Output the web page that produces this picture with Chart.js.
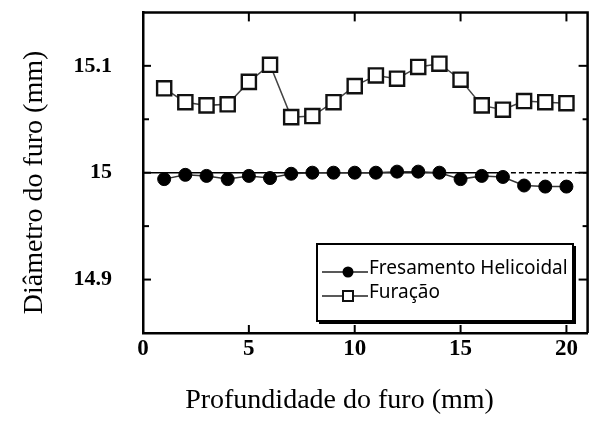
<!DOCTYPE html>
<html>
<head>
<meta charset="utf-8">
<script src="https://cdn.jsdelivr.net/npm/chart.js@4.4.0/dist/chart.umd.min.js"></script>
<style>
  html, body { margin: 0; padding: 0; background: #fff; overflow: hidden; width: 592px; height: 421px; }
  canvas { display: block; }
</style>
</head>
<body>
<canvas id="c" width="600" height="421"></canvas>
<script>
// Hole depth (mm) at which each diameter was measured
const depth = [1, 2, 3, 4, 5, 6, 7, 8, 9, 10, 11, 12, 13, 14, 15, 16, 17, 18, 19, 20];
// Hole diameter (mm), helical milling
const fresamento = [14.994, 14.998, 14.997, 14.994, 14.997, 14.995, 14.999, 15.000, 15.000, 15.000,
                    15.000, 15.001, 15.001, 15.000, 14.994, 14.997, 14.996, 14.988, 14.987, 14.987];
// Hole diameter (mm), conventional drilling
const furacao = [15.079, 15.066, 15.063, 15.064, 15.085, 15.101, 15.052, 15.053, 15.066, 15.081,
                 15.091, 15.088, 15.099, 15.102, 15.087, 15.063, 15.059, 15.067, 15.066, 15.065];
// Nominal diameter line: solid up to nominalSolidEnd, dashed after it
const nominal = 15.0;
const nominalSolidEnd = 17;

const seriesNames = ['Fresamento Helicoidal', 'Furação'];
const xTicks = [0, 5, 10, 15, 20];
const xTickLabels = ['0', '5', '10', '15', '20'];
const yTicks = [14.9, 15.0, 15.1];
const yTickLabels = ['14.9', '15', '15.1'];
const yMinorTicks = [14.95, 15.05];
const xTitle = 'Profundidade do furo (mm)';
const yTitle = 'Diâmetro do furo (mm)';

const X_MIN = 0, X_MAX = 21, Y_MIN = 14.85, Y_MAX = 15.15;
const SERIF = '"Liberation Serif", "Times New Roman", serif';
const SANS = '"Noto Sans", "Open Sans", sans-serif';

const toPoints = (xs, ys) => xs.map((x, i) => ({ x, y: ys[i] }));

// Boxed plot frame, inward tick marks, axis titles and the legend box
const framePlugin = {
  id: 'frame',
  afterDraw(chart) {
    const { ctx, chartArea: a, scales: { x, y } } = chart;
    const line = (x1, y1, x2, y2) => { ctx.beginPath(); ctx.moveTo(x1, y1); ctx.lineTo(x2, y2); ctx.stroke(); };
    ctx.save();
    ctx.strokeStyle = '#000';
    ctx.lineCap = 'butt';

    // top and right spines
    ctx.lineWidth = 2.5;
    ctx.beginPath();
    ctx.moveTo(a.left, a.top);
    ctx.lineTo(a.right, a.top);
    ctx.lineTo(a.right, a.bottom);
    ctx.stroke();

    // inward ticks
    ctx.lineWidth = 2;
    xTicks.forEach(v => {
      if (v === X_MIN) return;
      const px = x.getPixelForValue(v);
      line(px, a.bottom, px, a.bottom - 8);
      line(px, a.top, px, a.top + 9);
    });
    yTicks.forEach(v => {
      const py = y.getPixelForValue(v);
      line(a.left, py, a.left + 8, py);
      line(a.right, py, a.right - 9, py);
    });
    yMinorTicks.forEach(v => {
      const py = y.getPixelForValue(v);
      line(a.left, py, a.left + 6, py);
      line(a.right, py, a.right - 5, py);
    });

    // axis titles
    ctx.fillStyle = '#000';
    ctx.font = '28px ' + SERIF;
    ctx.textAlign = 'center';
    ctx.textBaseline = 'alphabetic';
    ctx.fillText(xTitle, 339.5, 408);
    ctx.save();
    ctx.translate(42, 182.5);
    ctx.rotate(-Math.PI / 2);
    ctx.fillText(yTitle, 0, 0);
    ctx.restore();

    // legend
    const bx = 317, by = 244, bw = 256, bh = 77;
    ctx.fillStyle = '#fff';
    ctx.fillRect(bx, by, bw, bh);
    ctx.lineWidth = 2;
    ctx.strokeRect(bx, by, bw, bh);
    ctx.lineWidth = 2;
    line(bx + bw + 2, by + 2, bx + bw + 2, by + bh + 2);
    line(bx + 2, by + bh + 2, bx + bw + 3, by + bh + 2);

    const ds = chart.data.datasets;
    const rows = [272, 296];
    [0, 1].forEach((k, i) => {
      const d = ds[k];
      const ly = rows[i];
      ctx.strokeStyle = '#222';
      ctx.lineWidth = 1.5;
      line(322, ly, 368, ly);
      const mx = 348;
      if (d.pointStyle === 'circle') {
        ctx.fillStyle = '#000';
        ctx.beginPath();
        ctx.arc(mx, ly, 5.5, 0, Math.PI * 2);
        ctx.fill();
      } else {
        ctx.fillStyle = '#fff';
        ctx.strokeStyle = '#111';
        ctx.lineWidth = 2;
        ctx.fillRect(mx - 5, ly - 5, 10, 10);
        ctx.strokeRect(mx - 5, ly - 5, 10, 10);
      }
      ctx.fillStyle = '#000';
      ctx.font = '19px ' + SANS;
      ctx.textAlign = 'left';
      ctx.textBaseline = 'alphabetic';
      ctx.fillText(d.label, 369, ly + 2);
    });
    ctx.restore();
  }
};

new Chart(document.getElementById('c'), {
  type: 'line',
  data: {
    datasets: [
      {
        label: seriesNames[0],
        data: toPoints(depth, fresamento),
        borderColor: '#333',
        borderWidth: 1.5,
        pointStyle: 'circle',
        pointRadius: 6.5,
        pointBackgroundColor: '#000',
        pointBorderColor: '#000',
        pointBorderWidth: 1,
        order: 1
      },
      {
        label: seriesNames[1],
        data: toPoints(depth, furacao),
        borderColor: '#444',
        borderWidth: 1.5,
        pointStyle: 'rect',
        pointRadius: 10,
        pointBackgroundColor: '#fff',
        pointBorderColor: '#111',
        pointBorderWidth: 2.4,
        order: 1
      },
      {
        label: 'nominal',
        data: [{ x: X_MIN, y: nominal }, { x: nominalSolidEnd, y: nominal }],
        borderColor: '#000',
        borderWidth: 1.5,
        pointRadius: 0,
        order: 5
      },
      {
        label: 'nominal-ext',
        data: [{ x: nominalSolidEnd, y: nominal }, { x: X_MAX, y: nominal }],
        borderColor: '#000',
        borderWidth: 1.5,
        borderDash: [5, 3],
        pointRadius: 0,
        order: 5
      }
    ]
  },
  options: {
    responsive: false,
    animation: false,
    devicePixelRatio: 1,
    layout: { padding: { left: 0, top: 12, right: 6, bottom: 0 } },
    plugins: { legend: { display: false }, tooltip: { enabled: false } },
    scales: {
      x: {
        type: 'linear',
        min: X_MIN,
        max: X_MAX,
        afterFit(s) { s.height = 88; s.paddingLeft = 0; s.paddingRight = 0; },
        afterBuildTicks(s) { s.ticks = xTicks.map(v => ({ value: v })); },
        grid: { display: false, drawTicks: false },
        border: { display: true, color: '#000', width: 2.5 },
        ticks: {
          color: '#000',
          font: { family: SERIF, size: 23, weight: 'bold' },
          padding: 2,
          maxRotation: 0,
          autoSkip: false,
          callback: (v, i) => xTickLabels[i]
        }
      },
      y: {
        type: 'linear',
        min: Y_MIN,
        max: Y_MAX,
        afterFit(s) { s.width = 143; s.paddingTop = 0; s.paddingBottom = 0; },
        afterBuildTicks(s) { s.ticks = yTicks.map(v => ({ value: v })); },
        grid: { display: false, drawTicks: false },
        border: { display: true, color: '#000', width: 2.5 },
        ticks: {
          color: '#000',
          font: { family: SERIF, size: 22, weight: 'bold' },
          padding: 31,
          autoSkip: false,
          callback: (v, i) => yTickLabels[i]
        }
      }
    }
  },
  plugins: [framePlugin]
});
</script>
</body>
</html>
